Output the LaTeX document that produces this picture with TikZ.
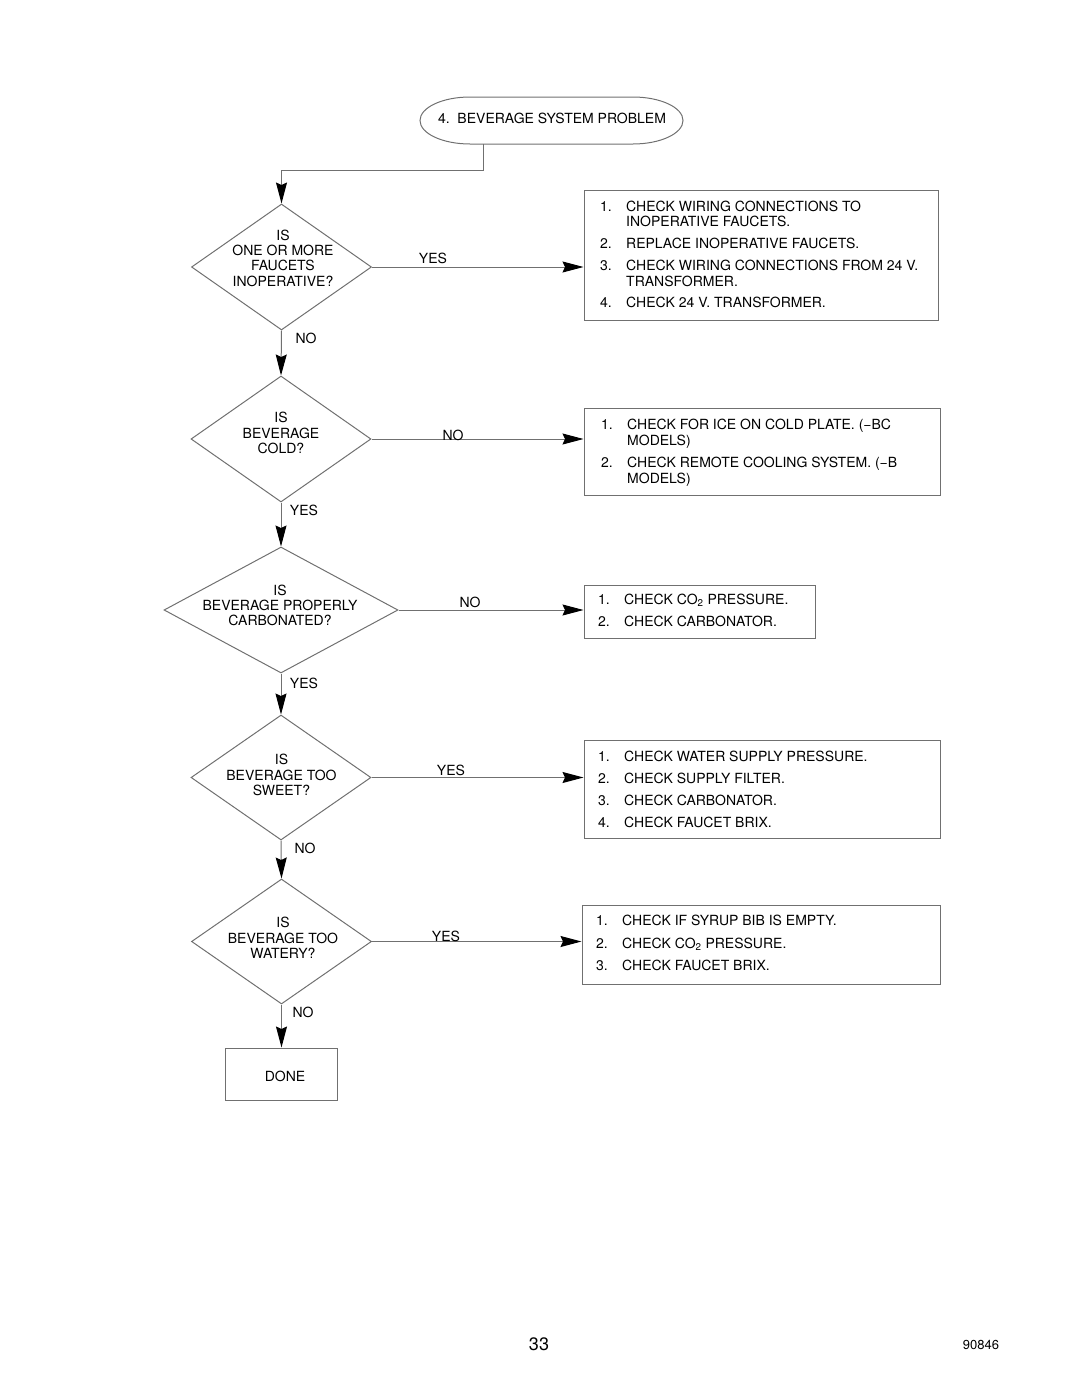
\documentclass[tikz,border=0pt]{standalone}
\usepackage{fontspec}
\setmainfont{TeX Gyre Heros}
\usetikzlibrary{arrows.meta,shapes.geometric}
\definecolor{lncol}{RGB}{112,112,112}
\begin{document}
\begin{tikzpicture}[x=1pt,y=-1pt,
  every node/.style={font=\fontsize{14}{15.3}\selectfont, inner sep=0pt, text=black},
  lnst/.style={draw=lncol, line width=1pt},
  dia/.style={diamond, lnst, minimum width=#1, inner sep=0pt},
  dia/.default=180pt,
  boxst/.style={rectangle, lnst, inner sep=0pt},
  arr/.style={lnst, -{Stealth[length=21pt,width=11pt,inset=2.5pt,black]}},
  lst/.style={anchor=base west},
  qtext/.style={align=center},
]
\useasboundingbox (0,0) rectangle (1080,1397);

% start terminal
\node (start) at (551.5,120.5) [minimum width=263pt, minimum height=47pt] {};
\draw[lnst] (420,120.5) .. controls (420,107.5) and (442.4,97) .. (470,97)
  -- (633,97) .. controls (660.6,97) and (683,107.5) .. (683,120.5)
  .. controls (683,133.5) and (660.6,144) .. (633,144)
  -- (470,144) .. controls (442.4,144) and (420,133.5) .. (420,120.5) -- cycle;
\node (startt) at (552,118) {4.\ \ BEVERAGE SYSTEM PROBLEM};

% decisions
\node[dia, minimum height=126pt] (d1) at (281.5,267) {};
\node[qtext] (d1t) at (283,258) {IS\\ONE OR MORE\\FAUCETS\\INOPERATIVE?};
\node[dia, minimum height=126pt] (d2) at (281,439) {};
\node[qtext] (d2t) at (281,433) {IS\\BEVERAGE\\COLD?};
\node[dia=234pt, minimum height=126pt] (d3) at (281,610) {};
\node[qtext] (d3t) at (280,605.5) {IS\\BEVERAGE PROPERLY\\CARBONATED?};
\node[dia, minimum height=125pt] (d4) at (281,777.5) {};
\node[qtext] (d4t) at (281.5,775) {IS\\BEVERAGE TOO\\SWEET?};
\node[dia, minimum height=125pt] (d5) at (281.5,941.5) {};
\node[qtext] (d5t) at (283,938) {IS\\BEVERAGE TOO\\WATERY?};
\node[boxst, minimum width=112pt, minimum height=52pt] (done) at (281,1074) {};
\node (donet) at (285,1076) {DONE};

% action boxes
\node[boxst, minimum width=354pt, minimum height=130pt] (b1) at (761,255) {};
\node[lst] (b1n1) at (600,211) {1.};
\node[lst] (b1a) at (626,211) {CHECK WIRING CONNECTIONS TO};
\node[lst] (b1b) at (626,226.5) {INOPERATIVE FAUCETS.};
\node[lst] (b1n2) at (600,248) {2.};
\node[lst] (b1c) at (626,248) {REPLACE INOPERATIVE FAUCETS.};
\node[lst] (b1n3) at (600,270) {3.};
\node[lst] (b1d) at (626,270) {CHECK WIRING CONNECTIONS FROM 24 V.};
\node[lst] (b1e) at (626,286) {TRANSFORMER.};
\node[lst] (b1n4) at (600,307) {4.};
\node[lst] (b1f) at (626,307) {CHECK 24 V. TRANSFORMER.};

\node[boxst, minimum width=356pt, minimum height=87pt] (b2) at (762,451.5) {};
\node[lst] (b2n1) at (601,429) {1.};
\node[lst] (b2a) at (627,429) {CHECK FOR ICE ON COLD PLATE. (\textminus BC};
\node[lst] (b2b) at (627,445) {MODELS)};
\node[lst] (b2n2) at (601,467) {2.};
\node[lst] (b2c) at (627,467) {CHECK REMOTE COOLING SYSTEM. (\textminus B};
\node[lst] (b2d) at (627,483) {MODELS)};

\node[boxst, minimum width=231pt, minimum height=53pt] (b3) at (699.5,611.5) {};
\node[lst] (b3n1) at (598,604) {1.};
\node[lst] (b3a) at (624,604) {CHECK CO\textsubscript{2} PRESSURE.};
\node[lst] (b3n2) at (598,626) {2.};
\node[lst] (b3b) at (624,626) {CHECK CARBONATOR.};

\node[boxst, minimum width=356pt, minimum height=98pt] (b4) at (762,789) {};
\node[lst] (b4n1) at (598,761) {1.};
\node[lst] (b4a) at (624,761) {CHECK WATER SUPPLY PRESSURE.};
\node[lst] (b4n2) at (598,783) {2.};
\node[lst] (b4b) at (624,783) {CHECK SUPPLY FILTER.};
\node[lst] (b4n3) at (598,805) {3.};
\node[lst] (b4c) at (624,805) {CHECK CARBONATOR.};
\node[lst] (b4n4) at (598,827) {4.};
\node[lst] (b4d) at (624,827) {CHECK FAUCET BRIX.};

\node[boxst, minimum width=358pt, minimum height=79pt] (b5) at (761,944.5) {};
\node[lst] (b5n1) at (596,925) {1.};
\node[lst] (b5a) at (622,925) {CHECK IF SYRUP BIB IS EMPTY.};
\node[lst] (b5n2) at (596,948) {2.};
\node[lst] (b5b) at (622,948) {CHECK CO\textsubscript{2} PRESSURE.};
\node[lst] (b5n3) at (596,970) {3.};
\node[lst] (b5c) at (622,970) {CHECK FAUCET BRIX.};

% connectors
\draw[arr] ([xshift=-68.5pt]start.south) -- ++(0,26) -| (d1.north);
\draw[arr] (d1.east) -- (d1.east -| b1.west);
\draw[arr] (d1.south) -- (d2.north);
\draw[arr] (d2.east) -- (d2.east -| b2.west);
\draw[arr] (d2.south) -- (d3.north);
\draw[arr] (d3.east) -- (d3.east -| b3.west);
\draw[arr] (d3.south) -- (d4.north);
\draw[arr] (d4.east) -- (d4.east -| b4.west);
\draw[arr] (d4.south) -- (d5.north);
\draw[arr] (d5.east) -- (d5.east -| b5.west);
\draw[arr] (d5.south) -- (d5.south |- done.north);

% connector labels
\node (l1y) at (433,258) {YES};
\node (l1n) at (306,338) {NO};
\node (l2n) at (453,435) {NO};
\node (l2y) at (304,510) {YES};
\node (l3n) at (470,602) {NO};
\node (l3y) at (304,683) {YES};
\node (l4y) at (451,770) {YES};
\node (l4n) at (305,848) {NO};
\node (l5y) at (446,936) {YES};
\node (l5n) at (303,1012) {NO};

% footer
\node[font=\fontsize{18}{20}\selectfont] (pg) at (539,1344) {33};
\node[font=\fontsize{13}{15}\selectfont] (doc) at (981,1345) {90846};
\end{tikzpicture}
\end{document}
